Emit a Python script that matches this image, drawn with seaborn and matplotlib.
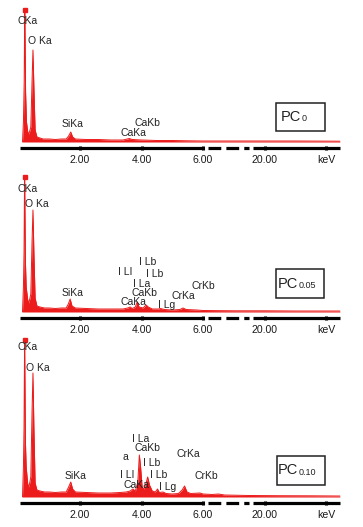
import matplotlib
matplotlib.use("Agg")
import matplotlib.pyplot as plt
import seaborn as sns
import pandas as pd
from matplotlib.patches import Rectangle

sns.set_theme(style="white")
plt.rcParams['font.family'] = ['Liberation Sans', 'DejaVu Sans']

# ---------------- data ----------------
# x positions on the broken energy axis (after the break, position 8 is 20 keV)
tick_positions = [2, 4, 6, 8, 10]
tick_labels = ["2.00", "4.00", "6.00", "20.00", "keV"]

energy_pc0 = [0.13, 0.16, 0.185, 0.195, 0.205, 0.215, 0.23, 0.26, 0.30, 0.34, 0.40, 0.44, 0.47, 0.50, 0.54,
              0.60, 0.70, 0.80, 1.0, 1.2, 1.4, 1.55, 1.63, 1.70, 1.76, 1.85, 2.2, 2.6, 3.0, 3.4, 3.6, 3.7,
              4.0, 4.5, 5.0, 5.5, 6.0, 7.0, 8.0, 9.0, 10.45]
counts_pc0 = [0, 20, 60, 105, 132, 100, 50, 20, 10, 8, 15, 60, 92, 55, 12,
              5, 4, 3, 3, 2.5, 3, 3, 6, 10, 5, 3, 2.5, 2.5, 2, 2, 3.5, 2.5,
              2, 1.5, 1.5, 1.2, 1, 1, 1, 1, 0.8]

energy_pc005 = [0.13, 0.16, 0.18, 0.19, 0.20, 0.21, 0.225, 0.25, 0.30, 0.34, 0.40, 0.44, 0.47, 0.50, 0.54,
                0.60, 0.70, 0.85, 1.0, 1.2, 1.4, 1.55, 1.62, 1.68, 1.74, 1.85, 2.2, 2.6, 3.0, 3.4, 3.55,
                3.63, 3.70, 3.80, 3.86, 3.92, 4.05, 4.15, 4.22, 4.35, 4.55, 4.62, 4.75, 5.0, 5.25, 5.35,
                5.45, 5.8, 6.0, 7.0, 8.0, 9.0, 10.45]
counts_pc005 = [0, 25, 60, 105, 135, 100, 50, 25, 12, 9, 18, 70, 102, 60, 14,
                6, 5, 4, 4, 3.5, 4, 4, 8, 13, 6, 4, 3.5, 3, 3, 3, 4,
                5, 3.5, 5, 10, 5, 4, 7, 5, 3, 3, 3.5, 2.5, 2, 2.5, 4,
                2.5, 2, 1.5, 1.2, 1.2, 1, 1]

energy_pc010 = [0.13, 0.16, 0.18, 0.19, 0.20, 0.21, 0.225, 0.25, 0.30, 0.34, 0.40, 0.44, 0.47, 0.50, 0.54,
                0.60, 0.70, 0.85, 1.0, 1.2, 1.4, 1.55, 1.63, 1.70, 1.76, 1.85, 2.2, 2.6, 3.0, 3.3, 3.5,
                3.63, 3.72, 3.80, 3.88, 3.93, 3.97, 4.02, 4.08, 4.15, 4.20, 4.26, 4.35, 4.45, 4.52, 4.58,
                4.70, 4.80, 5.0, 5.2, 5.32, 5.40, 5.48, 5.6, 5.9, 6.0, 6.3, 6.5, 6.7, 7.5, 8.5, 9.5, 10.45]
counts_pc010 = [0, 30, 70, 120, 157, 115, 55, 30, 13, 10, 20, 85, 124, 70, 14,
                7, 6, 5, 5, 4.5, 5, 5, 10, 15, 8, 5, 4.5, 4, 4, 4.5, 5,
                6, 8, 6, 15, 42, 30, 10, 8, 14, 20, 12, 6, 5, 8, 4.5,
                5, 3.5, 3, 3.5, 7, 11, 5, 3.5, 4, 3, 2.5, 3, 2, 1.5, 1.3, 1.2, 1]

sample_names = ["0", "0.05", "0.10"]

labels_pc0 = [("CKa", 28, 21), ("O Ka", 40, 41), ("SiKa", 73, 124), ("CaKb", 147, 123), ("CaKa", 133, 133)]
labels_pc005 = [("CKa", 28, 189), ("O Ka", 37, 204), ("SiKa", 73, 293), ("I Lb", 148, 262),
                ("I LI", 125, 272), ("I Lb", 155, 274), ("I La", 142, 284), ("CaKb", 144, 293),
                ("CaKa", 133, 302), ("I Lg", 167, 305), ("CrKa", 183, 296), ("CrKb", 203, 286)]
labels_pc010 = [("CKa", 28, 347), ("O Ka", 38, 368), ("SiKa", 76, 476), ("I La", 141, 439),
                ("CaKb", 147, 448), ("a", 125, 457), ("CrKa", 188, 454), ("I Lb", 152, 463),
                ("I LI", 127, 475), ("I Lb", 159, 475), ("CrKb", 206, 476), ("CaKa", 136, 485),
                ("I Lg", 168, 487)]

# ---------------- layout ----------------
W, H = 363, 527
X0, PXU = 18.5, 30.75          # pixel of position 0, pixels per axis unit
RED = "#ec1c1c"

panels = [
    dict(e=energy_pc0, c=counts_pc0, labels=labels_pc0, top=0, bot=170, base=142,
         box=(276, 103, 49, 28), pcx=281),
    dict(e=energy_pc005, c=counts_pc005, labels=labels_pc005, top=170, bot=340, base=312,
         box=(276, 269, 48, 29), pcx=278),
    dict(e=energy_pc010, c=counts_pc010, labels=labels_pc010, top=335, bot=527, base=497,
         box=(277, 456, 48, 29), pcx=278),
]

fig = plt.figure(figsize=(W / 100, H / 100), dpi=100)
fig.patch.set_facecolor("white")

def px2x(px):
    return (px - X0) / PXU

for p, name in zip(panels, sample_names):
    ax = fig.add_axes([0, 1 - p["bot"] / H, 1, (p["bot"] - p["top"]) / H])
    ax.patch.set_visible(False)
    base = p["base"]
    ax.set_xlim(px2x(0), px2x(W))
    ax.set_ylim(-(p["bot"] - base), base - p["top"])

    df = pd.DataFrame({"energy": p["e"], "counts": p["c"]})
    ax.fill_between(df["energy"], 0, df["counts"], color=RED, linewidth=0, clip_on=False)
    sns.lineplot(data=df, x="energy", y="counts", ax=ax, color=RED, linewidth=0.7,
                 sort=False, clip_on=False)
    imax = df["counts"].idxmax()
    ax.plot(df["energy"][imax], df["counts"][imax], "s", color=RED, markersize=2.2, clip_on=False)

    # broken axis line
    ya = -6
    for spine in ax.spines.values():
        spine.set_visible(False)
    ax.spines["bottom"].set_position(("data", ya))
    ax.plot([px2x(20), px2x(203)], [ya, ya], color="black", lw=2.3, solid_capstyle="butt")
    ax.plot([px2x(208), px2x(249)], [ya, ya], color="black", lw=2.3, dashes=(4, 1.6))
    ax.plot([px2x(253), px2x(340)], [ya, ya], color="black", lw=2.3, solid_capstyle="butt")

    ax.set_xticks(tick_positions)
    ax.set_xticklabels(tick_labels)
    ax.tick_params(axis="x", direction="inout", length=3.5, width=2.2, color="black",
                   pad=3.5, labelsize=7.6, labelcolor="#1a1a1a", bottom=True)
    ax.set_yticks([])
    ax.set_xlabel("")
    ax.set_ylabel("")

    for txt, px, py in p["labels"]:
        ax.text(px2x(px), base - py, txt, ha="center", va="center", fontsize=7.5,
                color="#222222", clip_on=False)

    bx, by, bw, bh = p["box"]
    ax.add_patch(Rectangle((px2x(bx), base - (by + bh)), bw / PXU, bh, fill=False,
                           edgecolor="#222222", linewidth=1.1, clip_on=False))
    t = ax.text(px2x(p["pcx"]), base - (by + bh / 2), "PC", ha="left", va="center",
                fontsize=10.5, color="#222222")
    ax.annotate(name, xy=(1.0, 0.2), xycoords=t, ha="left", va="baseline",
                fontsize=6.5, color="#222222")

fig.savefig("out.png", dpi=100, facecolor="white")
